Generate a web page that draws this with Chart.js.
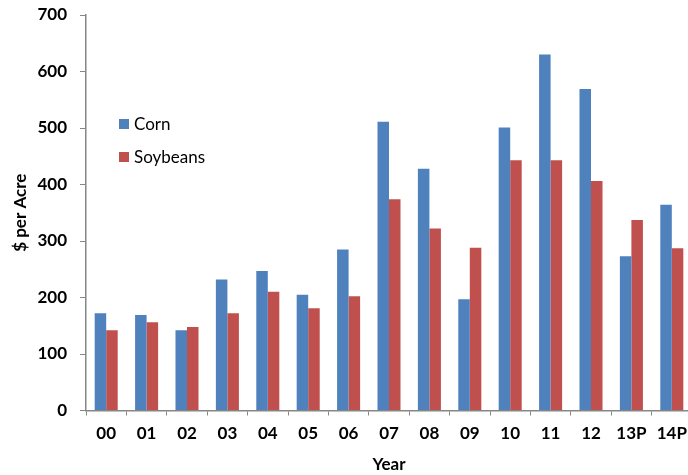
<!DOCTYPE html>
<html>
<head>
<meta charset="utf-8">
<script src="https://cdn.jsdelivr.net/npm/chart.js@4/dist/chart.umd.min.js"></script>
<style>
  html, body { margin: 0; padding: 0; background: #fff; overflow: hidden; }
  #wrap { width: 688px; height: 475px; overflow: hidden; }
  canvas { display: block; }
</style>
</head>
<body>
<div id="wrap"><canvas id="c" width="692" height="475"></canvas></div>
<script>
// Crop production cost per acre, by year
const years = ['00', '01', '02', '03', '04', '05', '06', '07', '08', '09', '10', '11', '12', '13P', '14P'];
const corn = [172, 169, 142, 232, 247, 205, 285, 511, 428, 197, 501, 630, 569, 273, 364];
const soybeans = [142, 156, 148, 172, 210, 181, 202, 374, 322, 288, 443, 443, 406, 337, 287];
const yTicks = [0, 100, 200, 300, 400, 500, 600, 700];

const FONT = 'Lato, "Open Sans", sans-serif';
const AXIS_GREY = '#868686';

// Legend drawn inside the plot area, stacked vertically
const insideLegend = {
  id: 'insideLegend',
  afterDraw(chart, args, opts) {
    const ctx = chart.ctx;
    ctx.save();
    ctx.font = '17px ' + FONT;
    ctx.textBaseline = 'middle';
    ctx.textAlign = 'left';
    chart.data.datasets.forEach((ds, i) => {
      const y = opts.y + i * opts.rowGap;
      ctx.fillStyle = ds.backgroundColor;
      ctx.fillRect(opts.x, y, opts.box, opts.box);
      ctx.fillStyle = '#000';
      ctx.fillText(ds.label, opts.x + opts.box + 5, y + opts.box / 2 + 0.5);
    });
    ctx.restore();
  }
};

new Chart(document.getElementById('c'), {
  type: 'bar',
  data: {
    labels: years,
    datasets: [
      { label: 'Corn', data: corn, backgroundColor: '#4F81BD', borderWidth: 0,
        barPercentage: 1, categoryPercentage: 0.57 },
      { label: 'Soybeans', data: soybeans, backgroundColor: '#C0504D', borderWidth: 0,
        barPercentage: 1, categoryPercentage: 0.57 }
    ]
  },
  options: {
    responsive: false,
    animation: false,
    layout: { padding: { top: 15, left: 0, right: 0, bottom: 0 } },
    plugins: {
      legend: { display: false },
      tooltip: { enabled: false },
      insideLegend: { x: 119, y: 119, box: 10, rowGap: 33 }
    },
    scales: {
      x: {
        grid: { display: true, drawOnChartArea: false, drawTicks: true, tickLength: 5, color: AXIS_GREY, offset: true },
        border: { display: true, color: AXIS_GREY, width: 1.5 },
        ticks: { color: '#000', font: { family: FONT, size: 17, weight: 'bold' }, padding: 8, maxRotation: 0, autoSkip: false },
        title: { display: true, text: 'Year', color: '#000', font: { family: FONT, size: 17, weight: 'bold' }, padding: { top: 4, bottom: 0 } },
        afterFit(scale) { scale.height = 64.5; scale.paddingLeft = 0; scale.paddingRight = 0; }
      },
      y: {
        min: 0,
        max: 700,
        afterBuildTicks(scale) { scale.ticks = yTicks.map(v => ({ value: v })); },
        grid: { display: true, drawOnChartArea: false, drawTicks: true, tickLength: 6, color: AXIS_GREY },
        border: { display: true, color: AXIS_GREY, width: 1.5 },
        ticks: { color: '#000', font: { family: FONT, size: 17, weight: 'bold' }, padding: 13 },
        title: { display: true, text: '$ per Acre', color: '#000', font: { family: FONT, size: 17, weight: 'bold' }, padding: { top: 10, bottom: 0 } },
        afterFit(scale) { scale.width = 86; scale.paddingTop = 0; scale.paddingBottom = 0; }
      }
    }
  },
  plugins: [insideLegend]
});
</script>
</body>
</html>
